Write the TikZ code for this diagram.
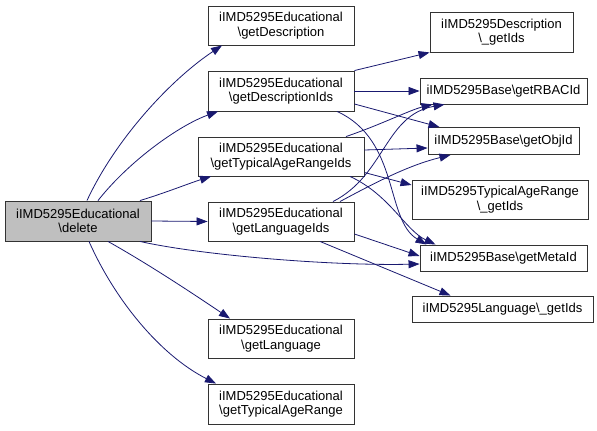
\documentclass[tikz,border=0pt]{standalone}
\usepackage{fontspec}
\setmainfont{Liberation Sans}
\usetikzlibrary{arrows.meta,calc}
\definecolor{edgec}{HTML}{191970}
\begin{document}
\begin{tikzpicture}[x=1pt,y=-1pt,
 fn/.style={draw=black!80, line width=0.9pt, fill=white, inner sep=0pt, align=center,
   font=\fontsize{13}{14.5}\selectfont},
 call/.style={draw=edgec, line width=0.8pt, -{Triangle[length=11pt,width=8pt]}}]
\useasboundingbox (0,0) rectangle (597,431);
% left
\node[fn, fill=black!25, minimum width=146, minimum height=40] (del) at (78,221) {iIMD5295Educational\\\textbackslash delete};
% middle
\node[fn, minimum width=146, minimum height=39] (gd) at (281,25.5) {iIMD5295Educational\\\textbackslash getDescription};
\node[fn, minimum width=146, minimum height=40] (gdi) at (281,91) {iIMD5295Educational\\\textbackslash getDescriptionIds};
\node[fn, minimum width=166, minimum height=39] (gtari) at (281,156.5) {iIMD5295Educational\\\textbackslash getTypicalAgeRangeIds};
\node[fn, minimum width=146, minimum height=39] (gli) at (281,221.5) {iIMD5295Educational\\\textbackslash getLanguageIds};
\node[fn, minimum width=146, minimum height=39] (gl) at (281,338.5) {iIMD5295Educational\\\textbackslash getLanguage};
\node[fn, minimum width=146, minimum height=40] (gtar) at (281,404) {iIMD5295Educational\\\textbackslash getTypicalAgeRange};
% right
\node[fn, minimum width=143, minimum height=40] (dgi) at (501.5,32) {iIMD5295Description\\\textbackslash\_getIds};
\node[fn, minimum width=167, minimum height=26] (rbac) at (503.5,91) {iIMD5295Base\textbackslash getRBACId};
\node[fn, minimum width=151, minimum height=27] (obj) at (503.5,141) {iIMD5295Base\textbackslash getObjId};
\node[fn, minimum width=176, minimum height=39] (targ) at (500,199.5) {iIMD5295TypicalAgeRange\\\textbackslash\_getIds};
\node[fn, minimum width=167, minimum height=26] (meta) at (503.5,258) {iIMD5295Base\textbackslash getMetaId};
\node[fn, minimum width=181, minimum height=26] (lang) at (502.5,309) {iIMD5295Language\textbackslash\_getIds};
% edges from delete
\draw[call] ([xshift=9]del.north) .. controls (115,140) and (170,80) .. ([xshift=-59]gd.south);
\draw[call] ([xshift=20]del.north) .. controls (130,160) and (180,125) .. ([xshift=-63]gdi.south);
\draw[call] ([xshift=62]del.north) .. controls (165,193) and (190,183) .. ([xshift=-70]gtari.south);
\draw[call] (del.east) -- (gli.west);
\draw[call] ([xshift=62]del.south) .. controls (200,255) and (330,266) .. ([yshift=-6]meta.west);
\draw[call] ([xshift=30]del.south) .. controls (150,265) and (195,295) .. ([xshift=-51]gl.north);
\draw[call] ([xshift=11]del.south) .. controls (115,300) and (160,355) .. ([xshift=-65]gtar.north);
% edges from getDescriptionIds
\draw[call] (gdi.north east) -- (dgi.south west);
\draw[call] (gdi.east) -- (rbac.west);
\draw[call] ([yshift=-13]gdi.east) -- ([xshift=-64]obj.north);
\draw[call] ([xshift=56]gdi.south) .. controls (400,140) and (385,220) .. ([xshift=-77]meta.north);
% edges from getTypicalAgeRangeIds
\draw[call] ([xshift=65]gtari.north) .. controls (380,125) and (410,110) .. ([xshift=-71]rbac.south);
\draw[call] ([yshift=6.5]gtari.east) -- ([yshift=-7]obj.west);
\draw[call] ([yshift=-16]gtari.east) -- ([yshift=14.5]targ.west);
\draw[call] ([xshift=69]gtari.south) .. controls (390,195) and (405,230) .. ([xshift=-68]meta.north);
% edges from getLanguageIds
\draw[call] ([xshift=52]gli.north) .. controls (385,175) and (385,115) .. ([xshift=-59]rbac.south);
\draw[call] ([xshift=59]gli.north) .. controls (380,180) and (410,165) .. ([xshift=-53]obj.south);
\draw[call] ([yshift=-12.5]gli.east) -- ([yshift=2]meta.west);
\draw[call] ([xshift=39]gli.south) -- ([xshift=-52]lang.north);
\end{tikzpicture}
\end{document}
